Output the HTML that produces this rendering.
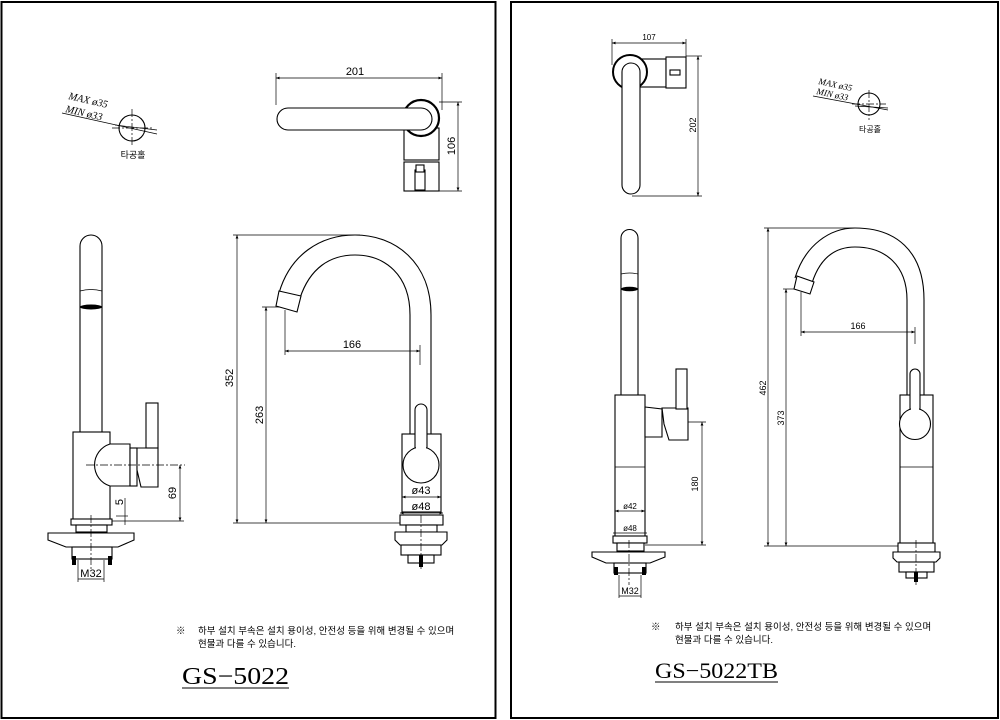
<!DOCTYPE html>
<html><head><meta charset="utf-8"><style>
html,body{margin:0;padding:0;background:#fff;}
svg{display:block;}
text{font-family:"Liberation Sans","Noto Sans CJK KR",sans-serif;fill:#000;}
.s{fill:none;stroke:#000;stroke-width:1.1;}
.t{fill:none;stroke:#000;stroke-width:0.7;}
.w{fill:#fff;stroke:#000;stroke-width:1.1;}
.c{stroke:#000;stroke-width:0.7;stroke-dasharray:8 2 2 2;fill:none;}
</style></head><body>
<svg width="1000" height="720" viewBox="0 0 1000 720" xmlns="http://www.w3.org/2000/svg">
<defs>
<marker id="a" markerWidth="6" markerHeight="6" refX="5" refY="3" orient="auto-start-reverse"><path d="M0,1 L5,3 L0,5" fill="#000"/></marker>
</defs>
<rect x="1.5" y="2" width="494" height="716" fill="none" stroke="#000" stroke-width="2"/>
<rect x="511" y="2" width="487" height="716" fill="none" stroke="#000" stroke-width="2"/>

<!-- LEFT hole symbol -->
<circle cx="132" cy="128" r="13" class="s"/>
<line x1="132" y1="109" x2="132" y2="147" class="c"/>
<line x1="112" y1="128" x2="152" y2="128" class="c"/>
<line x1="62" y1="113" x2="157" y2="134" class="t"/>
<line x1="115" y1="125" x2="157" y2="130" class="t"/>
<text x="68" y="99" style="font-family:'Liberation Serif',serif;font-style:italic;font-size:10.5px" transform="rotate(13 68 99)">MAX ø35</text>
<text x="65" y="112" style="font-family:'Liberation Serif',serif;font-style:italic;font-size:10.5px" transform="rotate(13 65 112)">MIN ø33</text>
<text x="133" y="158" font-size="9" text-anchor="middle" fill="#444">타공홀</text>

<!-- LEFT top view -->
<line x1="276" y1="78" x2="442" y2="78" class="t" marker-start="url(#a)" marker-end="url(#a)"/>
<line x1="276" y1="73" x2="276" y2="105" class="t"/><line x1="442" y1="73" x2="442" y2="110" class="t"/>
<text x="355" y="75" font-size="11" text-anchor="middle">201</text>
<rect x="404" y="128" width="35" height="32" class="w"/>
<rect x="404" y="162" width="35" height="29" class="w"/>
<rect x="415" y="170" width="10" height="20" class="w"/><rect x="416" y="165" width="8" height="7" class="w"/>
<circle cx="421" cy="118" r="18" fill="#fff" stroke="#000" stroke-width="2.2"/>
<path d="M288,108 L421,108 A11,11 0 0 1 421,130 L288,130 A11,11 0 0 1 288,108 Z" class="w"/>
<line x1="439" y1="102" x2="462" y2="102" class="t"/><line x1="439" y1="191" x2="462" y2="191" class="t"/>
<line x1="458" y1="102" x2="458" y2="191" class="t" marker-start="url(#a)" marker-end="url(#a)"/>
<text x="0" y="0" font-size="11" text-anchor="middle" transform="translate(455 146) rotate(-90)">106</text>

<!-- LEFT side view -->
<path d="M80,432 L80,246 A11,11 0 0 1 102,246 L102,432" class="w"/>
<path d="M80,291 Q91,288 102,291" class="t"/>
<ellipse cx="91" cy="307" rx="11" ry="2.5" fill="#000"/>
<rect x="73" y="432" width="37" height="88" class="w"/>
<path d="M110,444 A22,22 0 0 0 110,486 L130,486 L130,444 Z" class="w"/>
<rect x="130" y="448" width="7" height="38" class="w"/>
<path d="M137,448 L158,448 L158,487 L141,487 L137,470 Z" class="w"/>
<rect x="146" y="403" width="12" height="45" class="w"/>
<line x1="86" y1="465" x2="185" y2="465" class="c"/>
<line x1="180" y1="465" x2="180" y2="521" class="t" marker-start="url(#a)" marker-end="url(#a)"/>
<line x1="110" y1="521" x2="184" y2="521" class="t"/><line x1="116" y1="516" x2="128" y2="516" class="t"/>
<line x1="125" y1="498" x2="125" y2="525" class="t"/>
<text x="0" y="0" font-size="11" text-anchor="middle" transform="translate(176 493) rotate(-90)">69</text>
<text x="0" y="0" font-size="11" text-anchor="middle" transform="translate(123 502) rotate(-90)">5</text>
<rect x="71" y="519" width="41" height="6" class="w"/>
<rect x="76" y="525" width="31" height="7" class="w"/>
<path d="M48,533 L134,533 L134,540 L118,547 L66,547 L48,540 Z" class="w"/>
<rect x="72" y="547" width="40" height="12" class="w"/>
<rect x="72" y="556" width="4" height="9" fill="#000"/><rect x="108" y="556" width="4" height="9" fill="#000"/>
<line x1="91" y1="515" x2="91" y2="570" class="c"/>
<line x1="78" y1="560" x2="78" y2="582" class="t"/><line x1="104" y1="560" x2="104" y2="582" class="t"/>
<line x1="78" y1="579" x2="104" y2="579" class="t"/>
<text x="91" y="577" font-size="11" text-anchor="middle">M32</text>

<!-- LEFT front view -->
<line x1="233" y1="235" x2="360" y2="235" class="t"/>
<line x1="237" y1="235" x2="237" y2="523" class="t" marker-start="url(#a)" marker-end="url(#a)"/>
<text x="0" y="0" font-size="11" text-anchor="middle" transform="translate(233 378) rotate(-90)">352</text>
<line x1="262" y1="307" x2="282" y2="307" class="t"/>
<line x1="266" y1="307" x2="266" y2="523" class="t" marker-start="url(#a)" marker-end="url(#a)"/>
<text x="0" y="0" font-size="11" text-anchor="middle" transform="translate(263 415) rotate(-90)">263</text>
<line x1="233" y1="523" x2="402" y2="523" class="t"/>
<path d="M279,293 C290,255 320,235 355,235 C395,235 431,262 431,315 L431,435" class="s"/>
<path d="M300,298 C310,268 330,255 355,255 C385,255 410,275 410,315 L410,435" class="s"/>
<path d="M279,291 L301,296 L297,312 L276,306 Z" class="w"/>
<line x1="285" y1="310" x2="285" y2="355" class="t"/>
<line x1="285" y1="351" x2="420" y2="351" class="t" marker-start="url(#a)" marker-end="url(#a)"/>
<line x1="420" y1="345" x2="420" y2="365" class="t"/>
<text x="352" y="348" font-size="11" text-anchor="middle">166</text>
<rect x="402" y="434" width="39" height="78" class="w"/>
<path d="M415,410 A6,6 0 0 1 427,410 L427,450 L415,450 Z" class="w"/>
<circle cx="421" cy="465" r="18" class="w"/>
<rect x="416" y="446" width="10" height="6" fill="#fff"/>
<line x1="402" y1="497" x2="441" y2="497" class="t" marker-start="url(#a)" marker-end="url(#a)"/>
<text x="421" y="494" font-size="11" text-anchor="middle">ø43</text>
<line x1="400" y1="513" x2="443" y2="513" class="t" marker-start="url(#a)" marker-end="url(#a)"/>
<text x="421" y="510" font-size="11" text-anchor="middle">ø48</text>
<rect x="400" y="515" width="43" height="10" class="w"/>
<rect x="406" y="525" width="31" height="7" class="w"/>
<path d="M395,532 L447,532 L447,540 L442,545 L400,545 L395,540 Z" class="w"/>
<rect x="401" y="545" width="40" height="10" class="w"/>
<rect x="408" y="555" width="26" height="8" class="w"/>
<rect x="419" y="555" width="4" height="12" fill="#000"/>
<line x1="421" y1="515" x2="421" y2="570" class="c"/>

<!-- LEFT notes -->
<text x="176" y="634" font-size="9.5">※</text>
<text x="198" y="634" font-size="9.5">하부 설치 부속은 설치 용이성, 안전성 등을 위해 변경될 수 있으며</text>
<text x="198" y="647" font-size="9.5">현물과 다를 수 있습니다.</text>
<text x="182" y="684" textLength="107" lengthAdjust="spacingAndGlyphs" style="font-family:'Liberation Serif',serif;font-size:24px">GS−5022</text>
<line x1="182" y1="688" x2="289" y2="688" stroke="#000" stroke-width="1"/>

<!-- RIGHT top view -->
<line x1="612" y1="43" x2="686" y2="43" class="t" marker-start="url(#a)" marker-end="url(#a)"/>
<line x1="612" y1="39" x2="612" y2="65" class="t"/><line x1="686" y1="39" x2="686" y2="58" class="t"/>
<text x="649" y="40" font-size="8" text-anchor="middle">107</text>
<rect x="640" y="59" width="26" height="28" class="w"/>
<rect x="666" y="57" width="20" height="31" class="w"/>
<rect x="670" y="70" width="10" height="5" class="w"/>
<circle cx="630" cy="72" r="17" fill="#fff" stroke="#000" stroke-width="2"/>
<path d="M622,72 A9,9 0 0 1 640,72 L640,185 A9,9 0 0 1 622,185 Z" class="w"/>
<line x1="686" y1="56" x2="702" y2="56" class="t"/><line x1="632" y1="196" x2="702" y2="196" class="t"/>
<line x1="698" y1="56" x2="698" y2="196" class="t" marker-start="url(#a)" marker-end="url(#a)"/>
<text x="0" y="0" font-size="9" text-anchor="middle" transform="translate(696 125) rotate(-90)">202</text>

<!-- RIGHT hole -->
<circle cx="869" cy="104" r="11" class="s"/>
<line x1="869" y1="90" x2="869" y2="120" class="c"/>
<line x1="852" y1="104" x2="886" y2="104" class="c"/>
<line x1="813" y1="96" x2="888" y2="110" class="t"/>
<line x1="855" y1="106" x2="888" y2="108" class="t"/>
<text x="818" y="84" style="font-family:'Liberation Serif',serif;font-style:italic;font-size:9px" transform="rotate(12 818 84)">MAX ø35</text>
<text x="816" y="94" style="font-family:'Liberation Serif',serif;font-style:italic;font-size:9px" transform="rotate(12 816 94)">MIN ø33</text>
<text x="870" y="132" font-size="8" text-anchor="middle" fill="#444">타공홀</text>

<!-- RIGHT side view -->
<path d="M621,395 L621,238 A8.5,8.5 0 0 1 638,238 L638,395" class="w"/>
<path d="M621,274 Q629.5,272 638,274" class="t"/>
<ellipse cx="629.5" cy="289" rx="8.5" ry="2.3" fill="#000"/>
<rect x="615" y="395" width="30" height="148" class="w"/>
<line x1="615" y1="467" x2="645" y2="467" class="t"/>
<path d="M645,407 L662,409 L662,437 L645,437 Z" class="w"/>
<path d="M662,408 L688,408 L688,440 L669,440 L664,424 Z" class="w"/>
<rect x="676" y="369" width="11" height="40" class="w"/>
<line x1="688" y1="422" x2="706" y2="422" class="t"/>
<line x1="702" y1="422" x2="702" y2="545" class="t" marker-start="url(#a)" marker-end="url(#a)"/>
<line x1="645" y1="545" x2="706" y2="545" class="t"/>
<text x="0" y="0" font-size="9" text-anchor="middle" transform="translate(698 484) rotate(-90)">180</text>
<line x1="615" y1="511" x2="645" y2="511" class="t" marker-start="url(#a)" marker-end="url(#a)"/>
<text x="630" y="509" font-size="8" text-anchor="middle">ø42</text>
<line x1="613" y1="533" x2="647" y2="533" class="t"/>
<text x="630" y="531" font-size="8" text-anchor="middle">ø48</text>
<rect x="613" y="536" width="34" height="7" class="w"/>
<rect x="617" y="543" width="27" height="8" class="w"/>
<path d="M592,552 L665,552 L665,557 L650,563 L606,563 L592,557 Z" class="w"/>
<rect x="614" y="563" width="32" height="10" class="w"/>
<rect x="614" y="567" width="4" height="8" fill="#000"/><rect x="642" y="567" width="4" height="8" fill="#000"/>
<line x1="629" y1="540" x2="629" y2="585" class="c"/>
<line x1="619" y1="575" x2="619" y2="598" class="t"/><line x1="641" y1="575" x2="641" y2="598" class="t"/>
<line x1="619" y1="596" x2="641" y2="596" class="t"/>
<text x="630" y="594" font-size="9" text-anchor="middle">M32</text>

<!-- RIGHT front view -->
<line x1="764" y1="228" x2="855" y2="228" class="t"/>
<line x1="768" y1="228" x2="768" y2="546" class="t" marker-start="url(#a)" marker-end="url(#a)"/>
<text x="0" y="0" font-size="9" text-anchor="middle" transform="translate(766 388) rotate(-90)">462</text>
<line x1="783" y1="289" x2="797" y2="289" class="t"/>
<line x1="786" y1="289" x2="786" y2="546" class="t" marker-start="url(#a)" marker-end="url(#a)"/>
<text x="0" y="0" font-size="9" text-anchor="middle" transform="translate(784 418) rotate(-90)">373</text>
<line x1="764" y1="546" x2="900" y2="546" class="t"/>
<path d="M795,278 C805,245 830,228 855,228 C895,228 924,250 924,300 L924,395" class="s"/>
<path d="M812,283 C820,258 835,247 855,247 C885,247 907,265 907,300 L907,395" class="s"/>
<path d="M797,276 L814,282 L810,294 L794,289 Z" class="w"/>
<line x1="801" y1="292" x2="801" y2="336" class="t"/>
<line x1="801" y1="332" x2="915" y2="332" class="t" marker-start="url(#a)" marker-end="url(#a)"/>
<line x1="915" y1="327" x2="915" y2="344" class="t"/>
<text x="858" y="329" font-size="9" text-anchor="middle">166</text>
<rect x="900" y="395" width="33" height="150" class="w"/>
<line x1="900" y1="467" x2="933" y2="467" class="t"/>
<path d="M910,374 A5,5 0 0 1 920,374 L920,415 L910,415 Z" class="w"/>
<circle cx="915" cy="424" r="15.5" class="w"/>
<rect x="911" y="406" width="8" height="5" fill="#fff"/>
<rect x="898" y="543" width="37" height="9" class="w"/>
<path d="M893,552 L940,552 L940,558 L936,562 L897,562 L893,558 Z" class="w"/>
<rect x="899" y="562" width="35" height="10" class="w"/>
<rect x="906" y="572" width="21" height="6" class="w"/>
<rect x="914" y="572" width="4" height="10" fill="#000"/>
<line x1="916" y1="540" x2="916" y2="585" class="c"/>

<!-- RIGHT notes -->
<text x="651" y="630" font-size="9.5">※</text>
<text x="675" y="630" font-size="9.5">하부 설치 부속은 설치 용이성, 안전성 등을 위해 변경될 수 있으며</text>
<text x="675" y="643" font-size="9.5">현물과 다를 수 있습니다.</text>
<text x="655" y="678" textLength="123" lengthAdjust="spacingAndGlyphs" style="font-family:'Liberation Serif',serif;font-size:22px">GS−5022TB</text>
<line x1="655" y1="682" x2="778" y2="682" stroke="#000" stroke-width="1"/>
</svg>
</body></html>
